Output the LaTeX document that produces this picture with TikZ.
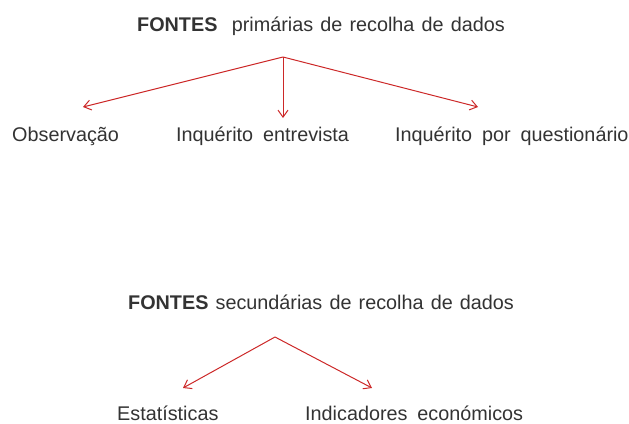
\documentclass[tikz,border=0pt]{standalone}
\usepackage{fontspec}
\setmainfont{Liberation Sans}[WordSpace=1.8]
\newfontfamily\titlefont{Liberation Sans}[WordSpace=1.3]
\usetikzlibrary{arrows.meta}
\definecolor{txt}{RGB}{51,51,51}
\definecolor{arr}{RGB}{204,40,40}
\begin{document}
\begin{tikzpicture}[x=1pt,y=-1pt,
  lbl/.style={inner sep=0pt,anchor=base west,text=txt,font=\fontsize{19.8}{23}\selectfont},
  ttl/.style={lbl,font=\titlefont\fontsize{19.8}{23}\selectfont},
  conn/.style={draw=arr,line width=1pt,-{Straight Barb[length=7pt,width=10pt]}}]
\useasboundingbox (0,0) rectangle (629,423);
\node[ttl] (t1) at (137,31) {\textbf{FONTES}\ \ primárias de recolha de dados};
\coordinate (o1) at (283,57);
\node[lbl] (a1) at (12,141) {Observação};
\node[lbl] (a2) at (176,141) {Inquérito entrevista};
\node[lbl] (a3) at (395,141) {Inquérito por questionário};
\coordinate (e1) at (83,107);
\coordinate (e2) at (283,118);
\coordinate (e3) at (478,107);
\draw[conn] (o1) -- (e1);
\draw[conn] (o1) -- (e2);
\draw[conn] (o1) -- (e3);
\node[ttl] (t2) at (128,309) {\textbf{FONTES} secundárias de recolha de dados};
\coordinate (o2) at (275,337);
\node[lbl] (b1) at (117,420) {Estatísticas};
\node[lbl] (b2) at (305,420) {Indicadores económicos};
\coordinate (f1) at (183,388);
\coordinate (f2) at (372,388);
\draw[conn] (o2) -- (f1);
\draw[conn] (o2) -- (f2);
\end{tikzpicture}
\end{document}
